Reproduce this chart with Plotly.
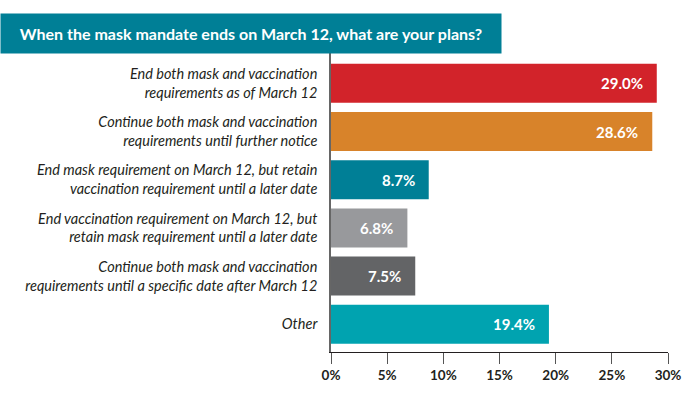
import plotly.graph_objects as go

categories = [
    "End both mask and vaccination<br>requirements as of March 12",
    "Continue both mask and vaccination<br>requirements until further notice",
    "End mask requirement on March 12, but retain<br>vaccination requirement until a later date",
    "End vaccination requirement on March 12, but<br>retain mask requirement until a later date",
    "Continue both mask and vaccination<br>requirements until a specific date after March 12",
    "Other",
]
values = [29.0, 28.6, 8.7, 6.8, 7.5, 19.4]
colors = ["#d2232a", "#d8832a", "#007f96", "#98999c", "#636466", "#00a3b0"]
tick_vals = [0, 5, 10, 15, 20, 25, 30]
tick_text = ["0%", "5%", "10%", "15%", "20%", "25%", "30%"]
title_text = "When the mask mandate ends on March 12, what are your plans?"

W, H = 696, 398
ML, MR, MT, MB = 331, 28, 53, 46
pw = W - ML - MR
ph = H - MT - MB

fig = go.Figure(go.Bar(
    x=values, y=categories, orientation="h",
    marker=dict(color=colors, line=dict(width=0)),
    width=0.81, hoverinfo="skip",
))

annotations = []
for v, c in zip(values, categories):
    annotations.append(dict(
        x=v, y=c, xref="x", yref="y", text=f"<b>{v:.1f}%</b>",
        xanchor="right", yanchor="middle", xshift=-12, showarrow=False,
        font=dict(family="Lato", size=15, color="white"),
    ))

annotations.append(dict(
    xref="paper", yref="paper", x=-ML / pw, y=1 + (MT - 13) / ph,
    xanchor="left", yanchor="top", text=f"<b>{title_text}</b>",
    showarrow=False, width=500, height=39, bgcolor="#007f96", borderpad=0,
    align="center", valign="middle",
    font=dict(family="Lato", size=16, color="white"),
))

fig.update_layout(
    width=W, height=H,
    margin=dict(l=ML, r=MR, t=MT, b=MB, pad=0),
    paper_bgcolor="white", plot_bgcolor="white",
    showlegend=False,
    annotations=annotations,
    xaxis=dict(
        range=[0, 30], tickvals=tick_vals, ticktext=tick_text,
        showgrid=False, zeroline=False, showline=True, linecolor="#231f20", linewidth=1.3,
        ticks="outside", ticklen=11, tickcolor="#555555", tickwidth=1.3,
        tickfont=dict(family="Lato", size=13.5, color="#231f20", weight="bold"),
        fixedrange=True,
    ),
    yaxis=dict(
        type="category", categoryorder="array", categoryarray=categories,
        range=[5.575, -0.63], autorange=False,
        showgrid=False, zeroline=False, showline=True, linecolor="#666666", linewidth=1.5,
        ticks="", ticklabelstandoff=9,
        tickfont=dict(family="Lato", size=14.5, color="#231f20", style="italic"),
        fixedrange=True,
    ),
)

fig.write_html(
    "out.html",
    config={"displayModeBar": False},
    post_script="document.body.style.margin='0';document.body.style.overflow='hidden';",
)
